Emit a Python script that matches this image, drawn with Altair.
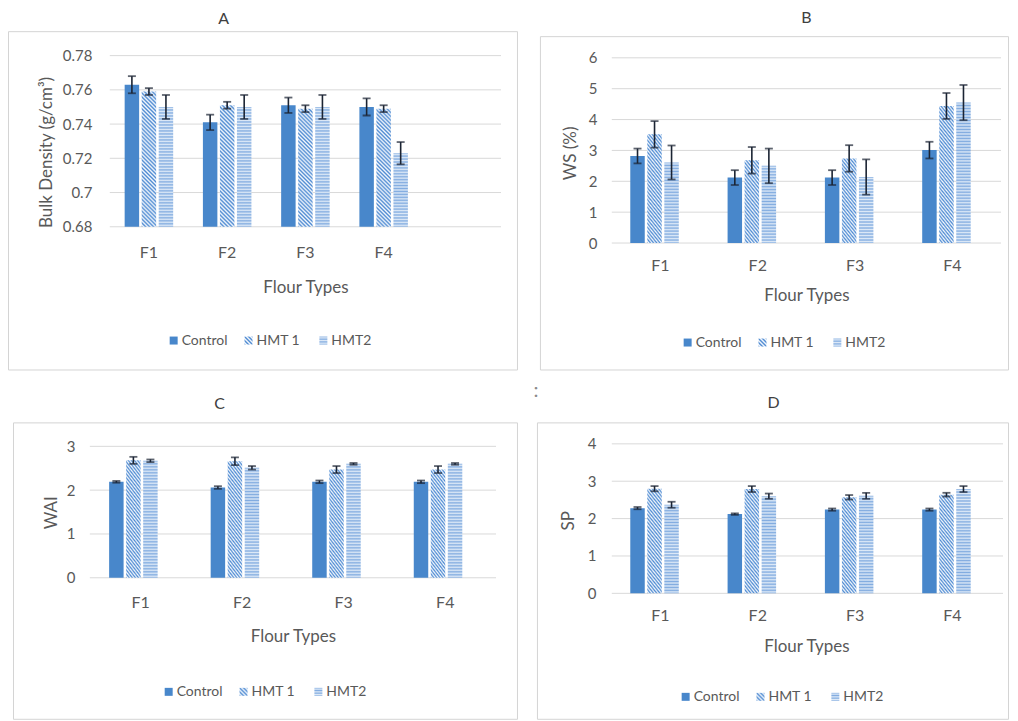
import math
import altair as alt
import pandas as pd

# ---------------- data ----------------
FLOURS = ["F1", "F2", "F3", "F4"]
SERIES = ["Control", "HMT 1", "HMT2"]

# A: Bulk density (g/cm3)
bd_control = [0.763, 0.741, 0.751, 0.750]
bd_hmt1 = [0.759, 0.751, 0.749, 0.749]
bd_hmt2 = [0.750, 0.750, 0.750, 0.723]
bd_control_err = [0.005, 0.0045, 0.0045, 0.005]
bd_hmt1_err = [0.002, 0.002, 0.002, 0.002]
bd_hmt2_err = [0.007, 0.007, 0.007, 0.0065]

# B: WS (%)
ws_control = [2.82, 2.12, 2.12, 3.01]
ws_hmt1 = [3.52, 2.68, 2.74, 4.44]
ws_hmt2 = [2.61, 2.50, 2.14, 4.55]
ws_control_err = [0.24, 0.24, 0.24, 0.27]
ws_hmt1_err = [0.43, 0.43, 0.43, 0.42]
ws_hmt2_err = [0.55, 0.56, 0.57, 0.57]

# C: WAI
wai_control = [2.19, 2.06, 2.19, 2.19]
wai_hmt1 = [2.68, 2.66, 2.47, 2.47]
wai_hmt2 = [2.67, 2.51, 2.60, 2.60]
wai_control_err = [0.02, 0.03, 0.03, 0.03]
wai_hmt1_err = [0.08, 0.09, 0.08, 0.08]
wai_hmt2_err = [0.03, 0.04, 0.02, 0.02]

# D: SP
sp_control = [2.28, 2.12, 2.24, 2.24]
sp_hmt1 = [2.80, 2.79, 2.57, 2.64]
sp_hmt2 = [2.37, 2.60, 2.61, 2.79]
sp_control_err = [0.03, 0.02, 0.03, 0.03]
sp_hmt1_err = [0.07, 0.08, 0.06, 0.05]
sp_hmt2_err = [0.08, 0.07, 0.08, 0.08]

bd_ticks = [0.68, 0.70, 0.72, 0.74, 0.76, 0.78]
ws_ticks = [0, 1, 2, 3, 4, 5, 6]
wai_ticks = [0, 1, 2, 3]
sp_ticks = [0, 1, 2, 3, 4]

# ---------------- styles ----------------
FONT = "Lato"
CONTROL_COLOR = "#4887cb"
H1_DARK, H1_LIGHT = "#4f8bd2", "#f4f8fd"
H2_DARK, H2_LIGHT = "#82ace0", "#dde9f7"
ERR_COLOR = "#1b2433"
GRID_COLOR = "#d9d9d9"
FRAME_COLOR = "#d4d4d4"
TEXT_COLOR = "#595959"

X_PAD_INNER, X_PAD_OUTER = 0.38, 0.19
XO_PAD_INNER = 0.15


def wave_stops(n, dark, light):
    # smooth (triangular) stripes: dark -> light -> dark ...
    stops = []
    for k in range(2 * n + 1):
        stops.append({"offset": round(k / (2 * n), 5),
                      "color": dark if k % 2 == 0 else light})
    return stops


def horiz_hatch(h, period=3.0):
    n = max(2, int(round(h / period)))
    return {"gradient": "linear", "x1": 0, "y1": 0, "x2": 0, "y2": 1,
            "stops": wave_stops(n, H2_DARK, H2_LIGHT)}


def diag_hatch(w, h, period=2.8):
    k = (w + h) / (w * w + h * h)
    span = (w + h) / math.sqrt(2)
    n = max(2, int(round(span / period)))
    return {"gradient": "linear", "x1": 0, "y1": 1, "x2": round(k * w, 5),
            "y2": round(1 - k * h, 5),
            "stops": wave_stops(n, H1_DARK, H1_LIGHT)}


def table(vals, errs):
    rows = []
    for s, vs, es in zip(SERIES, vals, errs):
        for f, v, e in zip(FLOURS, vs, es):
            rows.append({"flour": f, "series": s, "value": v,
                         "lo": v - e, "hi": v + e})
    return pd.DataFrame(rows)


ONE = pd.DataFrame({"k": [0]})


def make_panel(p):
    ox, oy = p["origin"]

    def rx(v):
        return v - ox

    def ry(v):
        return v - oy

    df = table(p["vals"], p["errs"])
    dmin, dmax = p["domain"]
    r0, r1 = p["yrange"]
    xr0, xr1 = p["xrange"]
    cats = p["cats"]

    yscale = alt.Scale(domain=[dmin, dmax], range=[r0, r1], zero=False, nice=False)
    yaxis = alt.Axis(values=p["ticks"], format="~g", grid=False, ticks=False,
                     tickSize=0, domain=False, labelFontSize=15,
                     labelPadding=p["ylabel_pad"], offset=p["yoffset"],
                     titleFontSize=17, titleX=p["ytitle_xy"][0] - (ox - p["yoffset"]),
                     titleY=p["ytitle_xy"][1] - oy, titleBaseline="middle",
                     titleAngle=270, zindex=1)
    xscale = alt.Scale(domain=cats, range=[xr0, xr1],
                       paddingInner=X_PAD_INNER, paddingOuter=X_PAD_OUTER)
    xaxis = alt.Axis(labelAngle=0, ticks=False, tickSize=0, domain=False, grid=False,
                     labelFontSize=16, labelBaseline="middle",
                     labelPadding=p["xlabel_y"] - (oy + r0),
                     titleFontSize=17, titleBaseline="middle",
                     titleX=p["xtitle_xy"][0] - ox,
                     titleY=p["xtitle_xy"][1] - (oy + r0), zindex=1)
    X = alt.X("flour:N", scale=xscale, axis=xaxis, title="Flour Types")
    XO = alt.XOffset("series:N", scale=alt.Scale(domain=SERIES, paddingInner=XO_PAD_INNER,
                                                 paddingOuter=0))

    def Y(field):
        return alt.Y(f"{field}:Q", scale=yscale, axis=yaxis, title=p["ytitle"])

    cx0, cy0, cx1, cy1 = p["canvas"]
    fx0, fy0, fx1, fy1 = p["frame"]
    gx0, gx1 = p["gridx"]

    layers = []
    layers.append(alt.Chart(ONE).mark_rect(opacity=0).encode(
        x=alt.value(rx(cx0)), x2=alt.value(rx(cx1)),
        y=alt.value(ry(cy0)), y2=alt.value(ry(cy1))))
    layers.append(alt.Chart(ONE).mark_rect(fill="white", fillOpacity=0, stroke=FRAME_COLOR,
                                           strokeWidth=1).encode(
        x=alt.value(rx(fx0)), x2=alt.value(rx(fx1)),
        y=alt.value(ry(fy0)), y2=alt.value(ry(fy1))))
    layers.append(alt.Chart(ONE).mark_text(text=p["title"], font=FONT, fontSize=16,
                                           color="#404040", align="center",
                                           baseline="middle").encode(
        x=alt.value(rx(p["title_xy"][0])), y=alt.value(ry(p["title_xy"][1]))))
    if p.get("dots_xy"):
        layers.append(alt.Chart(ONE).mark_text(text=":", font=FONT, fontSize=20,
                                               color="#8a8a8a", align="center",
                                               baseline="middle").encode(
            x=alt.value(rx(p["dots_xy"][0])), y=alt.value(ry(p["dots_xy"][1]))))
    layers.append(alt.Chart(pd.DataFrame({"t": p["ticks"]})).mark_rule(
        color=GRID_COLOR, strokeWidth=1).encode(
        y=Y("t"), x=alt.value(rx(gx0)), x2=alt.value(rx(gx1))))

    # solid control bars
    layers.append(alt.Chart(df).transform_filter(alt.datum.series == "Control")
                  .mark_bar(color=CONTROL_COLOR)
                  .encode(x=X, xOffset=XO, y=Y("value"), y2=alt.Y2Datum(dmin)))

    # hatched bars: one layer per bar so each hatch is sized to its bar
    step = (xr1 - xr0) / len(cats)
    group = step * (1 - X_PAD_INNER)
    bar_w = group / (3 - XO_PAD_INNER) * (1 - XO_PAD_INNER)
    for s, vals in zip(SERIES[1:], p["vals"][1:]):
        for f, v in zip(FLOURS, vals):
            h = (v - dmin) / (dmax - dmin) * (r0 - r1)
            fill = diag_hatch(bar_w, h) if s == "HMT 1" else horiz_hatch(h)
            layers.append(
                alt.Chart(df)
                .transform_filter((alt.datum.series == s) & (alt.datum.flour == f))
                .mark_bar(fill=fill, strokeWidth=0)
                .encode(x=X, xOffset=XO, y=Y("value"), y2=alt.Y2Datum(dmin)))

    # error bars
    layers.append(alt.Chart(df).mark_rule(color=ERR_COLOR, strokeWidth=1.6).encode(
        x=X, xOffset=XO, y=Y("lo"), y2=alt.Y2("hi")))
    layers.append(alt.Chart(df).mark_tick(color=ERR_COLOR, size=8, thickness=1.8).encode(
        x=X, xOffset=XO, y=Y("hi")))
    layers.append(alt.Chart(df).mark_tick(color=ERR_COLOR, size=8, thickness=1.8).encode(
        x=X, xOffset=XO, y=Y("lo")))

    main = alt.layer(*layers)

    # legend
    leg = pd.DataFrame({"series": SERIES})
    lx, ly = p["legend_xy"]
    LX = alt.X("series:N", scale=alt.Scale(domain=SERIES, type="point",
                                           range=[rx(lx), rx(lx) + 150], padding=0),
               axis=None)
    leg_fills = {"Control": CONTROL_COLOR, "HMT 1": diag_hatch(8, 8, 2.8),
                 "HMT2": horiz_hatch(8, 2.7)}
    leg_layers = []
    for s in SERIES:
        leg_layers.append(alt.Chart(leg).transform_filter(alt.datum.series == s)
                          .mark_square(size=64, fill=leg_fills[s], opacity=1, strokeWidth=0)
                          .encode(x=LX, y=alt.value(ry(ly))))
    leg_layers.append(alt.Chart(leg).mark_text(align="left", baseline="middle", dx=8,
                                               font=FONT, fontSize=14, color=TEXT_COLOR)
                      .encode(x=LX, y=alt.value(ry(ly)), text="series:N"))
    legend = alt.layer(*leg_layers)

    return alt.layer(main, legend).resolve_scale(x="independent").properties(
        width=p["width"], height=r0)


panel_A = dict(
    origin=(110, 54.5), width=392, yrange=(171.5, 0), xrange=(0, 392),
    cats=FLOURS + [" "], domain=(0.68, 0.78), ticks=bd_ticks,
    vals=[bd_control, bd_hmt1, bd_hmt2], errs=[bd_control_err, bd_hmt1_err, bd_hmt2_err],
    title="A", title_xy=(224, 18), ytitle="Bulk Density (g/cm³)", ytitle_xy=(47, 151),
    xtitle_xy=(306, 287), xlabel_y=252, ylabel_pad=18, yoffset=0,
    gridx=(110, 502), frame=(8.5, 30.5, 518.5, 369.5), canvas=(8, 8, 520, 372),
    legend_xy=(174, 340))

panel_B = dict(
    origin=(613, 54.5), width=390, yrange=(187.8, 2.2), xrange=(0, 390),
    cats=FLOURS, domain=(0, 6), ticks=ws_ticks,
    vals=[ws_control, ws_hmt1, ws_hmt2], errs=[ws_control_err, ws_hmt1_err, ws_hmt2_err],
    title="B", title_xy=(808, 17), ytitle="WS (%)", ytitle_xy=(572, 152),
    xtitle_xy=(808, 295), xlabel_y=265, ylabel_pad=15, yoffset=0,
    gridx=(613, 1003), frame=(541.5, 35.5, 1010.5, 369.5), canvas=(530, 8, 1012, 372),
    legend_xy=(689, 342))

panel_C = dict(
    origin=(110, 443.5), width=387, yrange=(134.2, 2.5), xrange=(-20, 387),
    cats=FLOURS, domain=(0, 3), ticks=wai_ticks,
    vals=[wai_control, wai_hmt1, wai_hmt2],
    errs=[wai_control_err, wai_hmt1_err, wai_hmt2_err],
    title="C", title_xy=(220, 404), ytitle="WAI", ytitle_xy=(52, 512),
    xtitle_xy=(293.5, 637), xlabel_y=602, ylabel_pad=15, yoffset=20,
    gridx=(90, 497), frame=(13.5, 422.5, 518.5, 719.5), canvas=(8, 380, 520, 720),
    legend_xy=(169, 692))

panel_D = dict(
    origin=(613, 443.5), width=390, yrange=(149.8, 0), xrange=(0, 390),
    cats=FLOURS, domain=(0, 4), ticks=sp_ticks,
    vals=[sp_control, sp_hmt1, sp_hmt2], errs=[sp_control_err, sp_hmt1_err, sp_hmt2_err],
    title="D", title_xy=(775, 403), ytitle="SP", ytitle_xy=(570, 520),
    xtitle_xy=(808, 647), xlabel_y=616, ylabel_pad=16, yoffset=0,
    gridx=(613, 1005), frame=(538.5, 422.5, 1010.5, 719.5), canvas=(530, 380, 1012, 720),
    legend_xy=(687, 697), dots_xy=(537, 391))

row1 = alt.hconcat(make_panel(panel_A), make_panel(panel_B), spacing=10)
row2 = alt.hconcat(make_panel(panel_C), make_panel(panel_D), spacing=10)

chart = alt.vconcat(row1, row2, spacing=7, padding=0).configure_view(
    stroke=None
).configure_axis(
    labelFont=FONT, titleFont=FONT, labelColor=TEXT_COLOR, titleColor=TEXT_COLOR,
    titleFontWeight="normal"
)

chart.save("out.html", embed_options={"renderer": "svg", "actions": False})
